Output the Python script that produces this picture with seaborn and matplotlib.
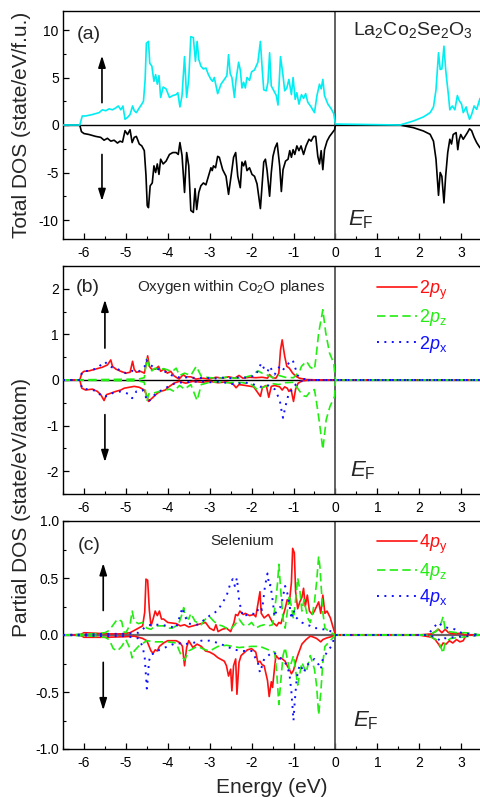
import matplotlib
matplotlib.use('Agg')
import matplotlib.pyplot as plt
import seaborn as sns
from matplotlib.lines import Line2D
from matplotlib.ticker import MultipleLocator, FormatStrFormatter

# ---------------- Panel (a): total DOS ----------------
E_a_up = [-6.5, -6.10, -6.04, -5.96, -5.80, -5.64, -5.56, -5.48, -5.40, -5.32, -5.24, -5.18, -5.12, -5.07,
          -5.02, -4.96, -4.90, -4.84, -4.80, -4.75, -4.68, -4.62, -4.58, -4.54, -4.51, -4.46, -4.43, -4.38,
          -4.33, -4.29, -4.25, -4.21, -4.17, -4.11, -4.04, -3.96, -3.88, -3.80, -3.76, -3.71, -3.66, -3.60,
          -3.55, -3.50, -3.45, -3.39, -3.34, -3.30, -3.26, -3.21, -3.15, -3.09, -3.03, -2.97, -2.93, -2.89,
          -2.81, -2.73, -2.65, -2.59, -2.55, -2.51, -2.47, -2.41, -2.37, -2.31, -2.27, -2.23, -2.19, -2.15,
          -2.11, -2.05, -2.00, -1.93, -1.85, -1.79, -1.75, -1.71, -1.65, -1.61, -1.57, -1.53, -1.48, -1.41,
          -1.37, -1.31, -1.25, -1.21, -1.16, -1.11, -1.05, -1.01, -0.96, -0.92, -0.87, -0.81, -0.76, -0.71,
          -0.66, -0.58, -0.50, -0.44, -0.38, -0.34, -0.30, -0.26, -0.18, -0.10, -0.04, 0.0, 1.54, 1.86,
          2.10, 2.26, 2.34, 2.40, 2.46, 2.50, 2.54, 2.59, 2.63, 2.70, 2.73, 2.79, 2.85, 2.91, 2.95, 3.01,
          3.05, 3.12, 3.15, 3.20, 3.25, 3.31, 3.37, 3.45]
dos_a_up = [0, 0, 0.95, 0.95, 1.1, 1.3, 1.6, 1.5, 1.7, 1.6, 1.8, 2.0, 1.6, 2.0,
            0.6, 0.8, 1.1, 2.0, 1.5, 1.3, 1.8, 2.2, 2.5, 4.8, 8.6, 8.8, 6.5, 6.2,
            4.6, 5.3, 4.3, 5.2, 2.9, 4.0, 3.8, 2.9, 3.1, 3.2, 3.4, 1.9, 3.1, 7.2,
            2.9, 4.8, 9.3, 9.2, 6.7, 8.8, 6.9, 6.2, 5.9, 6.0, 5.3, 4.8, 4.6, 5.0,
            3.3, 4.3, 4.8, 5.2, 7.4, 5.4, 5.0, 2.9, 4.8, 6.6, 5.8, 3.9, 4.5, 3.9,
            5.0, 4.7, 5.6, 5.8, 6.6, 8.8, 6.1, 3.7, 3.6, 4.5, 7.6, 4.1, 3.7, 3.1,
            2.1, 7.2, 5.2, 3.6, 3.9, 4.8, 3.2, 5.0, 2.7, 3.4, 2.2, 3.2, 2.8, 3.3,
            2.4, 1.9, 1.3, 3.1, 4.3, 3.8, 4.8, 3.1, 2.2, 1.7, 1.2, 0.1, 0.0, 0.42,
            0.85, 1.3, 1.9, 3.7, 7.6, 5.85, 5.9, 8.3, 5.85, 3.0, 1.6, 2.0, 1.6, 3.1, 2.6, 2.2,
            1.3, 1.9, 1.3, 0.6, 1.1, 2.0, 1.65, 2.8]

E_a_dn = [-6.5, -6.10, -6.06, -6.00, -5.88, -5.72, -5.60, -5.52, -5.44, -5.36, -5.28, -5.20, -5.14, -5.08,
          -5.02, -4.96, -4.90, -4.85, -4.80, -4.75, -4.68, -4.62, -4.56, -4.52, -4.49, -4.46, -4.42, -4.37,
          -4.33, -4.29, -4.25, -4.21, -4.17, -4.11, -4.04, -3.96, -3.88, -3.80, -3.75, -3.71, -3.66, -3.60,
          -3.55, -3.50, -3.45, -3.39, -3.35, -3.31, -3.26, -3.21, -3.15, -3.09, -3.03, -2.97, -2.94, -2.91,
          -2.86, -2.81, -2.77, -2.69, -2.61, -2.55, -2.49, -2.43, -2.38, -2.33, -2.27, -2.23, -2.19, -2.15,
          -2.11, -2.05, -1.99, -1.93, -1.87, -1.83, -1.79, -1.75, -1.71, -1.67, -1.63, -1.57, -1.53, -1.49,
          -1.44, -1.39, -1.33, -1.29, -1.25, -1.19, -1.13, -1.09, -1.05, -1.01, -0.97, -0.92, -0.87, -0.82,
          -0.76, -0.70, -0.63, -0.58, -0.52, -0.47, -0.42, -0.38, -0.34, -0.30, -0.26, -0.20, -0.14, -0.07,
          -0.02, 0.0, 1.54, 1.86, 2.10, 2.26, 2.34, 2.40, 2.46, 2.50, 2.54, 2.59, 2.63, 2.68, 2.73, 2.77,
          2.81, 2.88, 2.92, 2.95, 2.99, 3.05, 3.10, 3.15, 3.20, 3.25, 3.31, 3.37, 3.45]
dos_a_dn = [0, 0, -0.7, -0.9, -1.0, -1.2, -1.3, -1.6, -1.4, -1.7, -1.6, -1.9, -1.7, -1.8,
            -0.6, -1.0, -0.5, -1.85, -1.3, -1.2, -2.0, -2.2, -2.7, -5.3, -8.5, -8.7, -6.4, -6.1,
            -4.3, -5.0, -4.1, -5.2, -3.6, -4.1, -3.8, -3.1, -2.9, -2.9, -3.1, -1.85, -3.2, -7.1,
            -2.9, -4.3, -9.0, -9.2, -6.7, -8.9, -7.1, -6.4, -6.1, -6.3, -5.4, -4.5, -4.8, -4.3,
            -4.5, -3.3, -3.4, -4.7, -5.4, -7.3, -5.4, -3.4, -2.9, -5.4, -6.6, -3.9, -4.3, -3.8,
            -4.8, -4.5, -5.2, -5.4, -6.2, -7.5, -8.8, -6.4, -3.9, -3.6, -4.8, -7.5, -5.0, -3.3,
            -2.4, -1.9, -4.3, -7.0, -4.7, -3.8, -3.6, -2.7, -3.4, -2.6, -3.1, -2.2, -2.7, -2.2,
            -3.1, -2.2, -1.5, -1.7, -1.2, -1.2, -3.3, -4.1, -2.7, -4.7, -2.6, -1.7, -1.2, -0.8,
            -0.5, 0.0, 0.0, -0.28, -0.63, -0.98, -1.7, -3.6, -7.4, -5.0, -5.4, -8.2, -5.4, -2.9, -1.5, -2.0,
            -1.0, -0.8, -2.6, -1.6, -1.0, -1.5, -1.15, -0.8, -0.4, -0.6, -1.3, -1.85, -2.4]

# ---------------- Panel (b): oxygen 2p ----------------
E_b_py_up = [-6.5, -6.10, -6.05, -6.0, -5.88, -5.72, -5.56, -5.44, -5.36, -5.32, -5.24, -5.12, -5.0, -4.90,
             -4.84, -4.80, -4.75, -4.65, -4.56, -4.51, -4.48, -4.44, -4.38, -4.29, -4.22, -4.17, -4.09, -4.01,
             -3.93, -3.85, -3.73, -3.63, -3.57, -3.45, -3.33, -3.17, -3.01, -2.85, -2.7, -2.55, -2.4, -2.3,
             -2.21, -2.05, -1.9, -1.75, -1.62, -1.57, -1.5, -1.42, -1.35, -1.31, -1.27, -1.21, -1.16, -1.10,
             -1.02, -0.94, -0.86, -0.69, -0.4, 3.45]
dos_b_py_up = [0, 0, 0.15, 0.19, 0.20, 0.24, 0.28, 0.33, 0.44, 0.30, 0.24, 0.19, 0.15, 0.17,
               0.41, 0.23, 0.17, 0.19, 0.15, 0.37, 0.53, 0.30, 0.23, 0.24, 0.30, 0.19, 0.24, 0.15,
               0.19, 0.09, 0.02, 0.12, 0.07, 0.07, 0.02, 0.04, 0.02, 0.06, 0.04, 0.07, 0.04, 0.10,
               0.04, 0.06, 0.05, 0.06, 0.04, 0.12, 0.05, 0.04, 0.15, 0.66, 0.88, 0.52, 0.30, 0.26,
               0.15, 0.08, 0.04, 0.01, 0.0, 0.0]
E_b_py_dn = [-6.5, -6.10, -6.05, -5.96, -5.80, -5.68, -5.60, -5.52, -5.46, -5.36, -5.24, -5.12, -5.04, -4.92,
             -4.80, -4.68, -4.56, -4.51, -4.46, -4.40, -4.33, -4.25, -4.17, -4.06, -3.96, -3.85, -3.73, -3.57,
             -3.41, -3.17, -3.0, -2.8, -2.6, -2.45, -2.37, -2.3, -2.15, -1.95, -1.79, -1.74, -1.65, -1.59,
             -1.53, -1.45, -1.33, -1.27, -1.21, -1.15, -1.11, -1.06, -1.0, -0.95, -0.89, -0.8, -0.6, 3.45]
dos_b_py_dn = [0, 0, -0.18, -0.22, -0.20, -0.25, -0.32, -0.45, -0.32, -0.29, -0.25, -0.22, -0.18, -0.16,
               -0.14, -0.16, -0.22, -0.32, -0.47, -0.42, -0.36, -0.29, -0.25, -0.22, -0.14, -0.07, -0.03, -0.07,
               -0.03, -0.05, -0.03, -0.06, -0.04, -0.08, -0.17, -0.10, -0.12, -0.15, -0.36, -0.16, -0.12, -0.38,
               -0.14, -0.12, -0.15, -0.22, -0.15, -0.18, -0.25, -0.20, -0.47, -0.20, -0.07, -0.02, 0.0, 0.0]

E_b_pz_up = [-6.5, -4.7, -4.56, -4.5, -4.45, -4.38, -4.3, -4.2, -4.1, -4.0, -3.9, -3.8, -3.72, -3.6,
             -3.45, -3.32, -3.2, -3.0, -2.8, -2.6, -2.4, -2.2, -2.0, -1.85, -1.75, -1.6, -1.5, -1.35,
             -1.2, -1.0, -0.85, -0.81, -0.69, -0.6, -0.5, -0.46, -0.40, -0.30, -0.23, -0.14, -0.04, 0.0, 3.45]
dos_b_pz_up = [0, 0.02, 0.05, 0.48, 0.30, 0.20, 0.26, 0.22, 0.25, 0.22, 0.18, 0.26, 0.10, 0.15,
               0.10, 0.30, 0.08, 0.05, 0.04, 0.06, 0.04, 0.05, 0.10, 0.20, 0.15, 0.10, 0.05, 0.10,
               0.06, 0.05, 0.20, 0.30, 0.41, 0.28, 0.23, 0.52, 1.03, 1.54, 1.03, 0.59, 0.37, 0.0, 0.0]
E_b_pz_dn = [-6.5, -4.7, -4.56, -4.5, -4.45, -4.35, -4.2, -4.05, -3.95, -3.85, -3.72, -3.6, -3.45, -3.3,
             -3.2, -3.0, -2.8, -2.6, -2.4, -2.2, -2.0, -1.85, -1.7, -1.5, -1.35, -1.2, -1.0, -0.85,
             -0.75, -0.69, -0.6, -0.5, -0.46, -0.38, -0.30, -0.22, -0.13, -0.02, 0.0, 3.45]
dos_b_pz_dn = [0, -0.02, -0.05, -0.47, -0.30, -0.29, -0.25, -0.22, -0.20, -0.25, -0.12, -0.20, -0.10, -0.45,
               -0.10, -0.05, -0.04, -0.06, -0.05, -0.06, -0.10, -0.22, -0.15, -0.08, -0.10, -0.06, -0.05, -0.25,
               -0.35, -0.36, -0.25, -0.21, -0.43, -0.94, -1.52, -0.87, -0.58, -0.36, 0.0, 0.0]

E_b_px_up = [-6.5, -6.10, -6.04, -5.9, -5.7, -5.56, -5.5, -5.4, -5.2, -5.0, -4.85, -4.7, -4.55, -4.51,
             -4.45, -4.3, -4.1, -3.9, -3.7, -3.5, -3.3, -3.1, -2.9, -2.7, -2.5, -2.3, -2.1, -1.9,
             -1.77, -1.69, -1.62, -1.57, -1.45, -1.33, -1.25, -1.19, -1.11, -1.02, -0.97, -0.9, -0.8, -0.6, 3.45]
dos_b_px_up = [0, 0, 0.19, 0.20, 0.25, 0.36, 0.40, 0.30, 0.24, 0.15, 0.20, 0.18, 0.30, 0.44,
               0.35, 0.26, 0.20, 0.10, 0.05, 0.06, 0.04, 0.05, 0.03, 0.05, 0.04, 0.06, 0.05, 0.10,
               0.37, 0.23, 0.18, 0.30, 0.12, 0.30, 0.22, 0.30, 0.37, 0.44, 0.30, 0.10, 0.03, 0.0, 0.0]
E_b_px_dn = [-6.5, -6.10, -6.04, -5.9, -5.7, -5.56, -5.44, -5.3, -5.12, -4.95, -4.85, -4.75, -4.6, -4.51,
             -4.46, -4.35, -4.2, -4.0, -3.8, -3.6, -3.4, -3.2, -3.0, -2.8, -2.6, -2.4, -2.2, -2.0,
             -1.8, -1.6, -1.45, -1.33, -1.29, -1.25, -1.19, -1.11, -1.02, -0.95, -0.85, -0.6, 3.45]
dos_b_px_dn = [0, 0, -0.20, -0.20, -0.24, -0.37, -0.35, -0.28, -0.25, -0.30, -0.40, -0.25, -0.22, -0.40,
               -0.48, -0.35, -0.25, -0.15, -0.06, -0.05, -0.04, -0.03, -0.05, -0.04, -0.06, -0.10, -0.05, -0.08,
               -0.15, -0.12, -0.20, -0.43, -0.65, -0.83, -0.57, -0.28, -0.21, -0.10, -0.03, 0.0, 0.0]

# ---------------- Panel (c): selenium 4p ----------------
E_c_py_up = [-6.5, -6.1, -6.0, -5.7, -5.4, -5.1, -4.9, -4.8, -4.7, -4.6, -4.55, -4.52, -4.48, -4.44, -4.4,
             -4.35, -4.3, -4.25, -4.2, -4.15, -4.1, -4.0, -3.8, -3.7, -3.6, -3.5, -3.3, -3.1, -3.0, -2.9,
             -2.85, -2.8, -2.7, -2.6, -2.5, -2.42, -2.38, -2.33, -2.28, -2.2, -2.15, -2.05, -1.95, -1.9,
             -1.8, -1.77, -1.7, -1.6, -1.5, -1.4, -1.35, -1.3, -1.2, -1.15, -1.1, -1.05, -1.02, -0.98,
             -0.95, -0.9, -0.85, -0.8, -0.76, -0.72, -0.67, -0.62, -0.55, -0.5, -0.45, -0.4, -0.35, -0.3,
             -0.25, -0.2, -0.12, -0.05, 0.0, 2.0, 2.3, 2.38, 2.46, 2.54, 2.62, 2.70, 2.8, 3.0, 3.1, 3.45]
dos_c_py_up = [0, 0, 0.02, 0.015, 0.01, 0.01, 0.02, 0.04, 0.06, 0.08, 0.20, 0.49, 0.48, 0.22, 0.08,
               0.14, 0.21, 0.17, 0.21, 0.14, 0.14, 0.11, 0.10, 0.08, 0.09, 0.07, 0.09, 0.11, 0.06, 0.04,
               0.09, 0.03, 0.05, 0.06, 0.03, 0.11, 0.18, 0.17, 0.21, 0.18, 0.19, 0.17, 0.18, 0.16,
               0.38, 0.19, 0.15, 0.18, 0.11, 0.08, 0.11, 0.10, 0.23, 0.31, 0.28, 0.46, 0.76, 0.72,
               0.38, 0.23, 0.29, 0.33, 0.41, 0.25, 0.35, 0.21, 0.18, 0.21, 0.25, 0.29, 0.19, 0.35,
               0.19, 0.21, 0.15, 0.06, 0.0, 0.0, 0.01, 0.03, 0.05, 0.02, 0.05, 0.02, 0.01, 0.015, 0.0, 0.0]
E_c_py_dn = [-6.5, -6.1, -6.0, -5.5, -5.0, -4.8, -4.6, -4.5, -4.4, -4.35, -4.3, -4.25, -4.2, -4.1, -4.0,
             -3.8, -3.7, -3.65, -3.6, -3.55, -3.5, -3.4, -3.3, -3.2, -3.1, -3.0, -2.9, -2.8, -2.65, -2.6,
             -2.55, -2.5, -2.47, -2.43, -2.38, -2.35, -2.3, -2.25, -2.1, -2.0, -1.9, -1.85, -1.8, -1.75,
             -1.7, -1.62, -1.58, -1.53, -1.5, -1.45, -1.42, -1.35, -1.3, -1.2, -1.15, -1.1, -1.05, -1.0,
             -0.95, -0.9, -0.8, -0.7, -0.6, -0.55, -0.45, -0.35, -0.3, -0.2, -0.1, 0.0, 2.0, 2.3, 2.38,
             2.46, 2.51, 2.57, 2.64, 2.72, 2.80, 2.89, 2.97, 3.05, 3.12, 3.45]
dos_c_py_dn = [0, 0, -0.02, -0.02, -0.015, -0.01, -0.03, -0.05, -0.14, -0.16, -0.13, -0.14, -0.10, -0.07, -0.05,
               -0.05, -0.07, -0.10, -0.27, -0.11, -0.05, -0.11, -0.08, -0.10, -0.14, -0.15, -0.17, -0.20, -0.23, -0.27,
               -0.36, -0.30, -0.49, -0.27, -0.21, -0.52, -0.24, -0.18, -0.13, -0.12, -0.15, -0.24, -0.23, -0.26,
               -0.27, -0.40, -0.54, -0.41, -0.46, -0.28, -0.18, -0.21, -0.20, -0.23, -0.27, -0.30, -0.34, -0.31,
               -0.24, -0.18, -0.08, -0.04, -0.01, -0.015, -0.03, -0.06, -0.04, -0.025, -0.015, 0.0, 0.0, -0.02, -0.04,
               -0.08, -0.11, -0.07, -0.08, -0.05, -0.07, -0.04, -0.06, -0.05, 0.0, 0.0]

E_c_pz_up = [-6.5, -5.8, -5.5, -5.4, -5.3, -5.2, -5.1, -5.05, -5.0, -4.9, -4.85, -4.8, -4.7, -4.6, -4.5,
             -4.4, -4.3, -4.1, -4.0, -3.9, -3.75, -3.68, -3.62, -3.58, -3.5, -3.45, -3.35, -3.2, -3.1, -3.0,
             -2.9, -2.8, -2.7, -2.6, -2.5, -2.4, -2.3, -2.2, -2.1, -2.0, -1.9, -1.8, -1.7, -1.6, -1.5,
             -1.42, -1.38, -1.35, -1.3, -1.25, -1.2, -1.15, -1.1, -1.05, -1.0, -0.95, -0.9, -0.85, -0.8,
             -0.75, -0.7, -0.65, -0.6, -0.55, -0.5, -0.45, -0.4, -0.37, -0.33, -0.3, -0.25, -0.15, 0.0,
             2.2, 2.4, 2.5, 2.57, 2.62, 2.7, 2.9, 3.1, 3.3, 3.45]
dos_c_pz_up = [0, 0.01, 0.02, 0.04, 0.09, 0.14, 0.12, 0.03, 0.02, 0.09, 0.21, 0.12, 0.10, 0.11, 0.06,
               0.05, 0.08, 0.08, 0.06, 0.06, 0.09, 0.16, 0.24, 0.16, 0.14, 0.19, 0.12, 0.09, 0.14, 0.16,
               0.12, 0.09, 0.08, 0.06, 0.05, 0.09, 0.14, 0.09, 0.08, 0.11, 0.06, 0.08, 0.09, 0.08, 0.09,
               0.31, 0.46, 0.62, 0.37, 0.14, 0.06, 0.20, 0.35, 0.25, 0.14, 0.31, 0.50, 0.40, 0.21,
               0.31, 0.22, 0.14, 0.11, 0.18, 0.29, 0.46, 0.69, 0.60, 0.37, 0.20, 0.06, 0.03, 0.0,
               0.0, 0.03, 0.08, 0.16, 0.05, 0.03, 0.02, 0.02, 0.01, 0.0]
E_c_pz_dn = [-6.5, -5.8, -5.5, -5.4, -5.3, -5.2, -5.1, -5.0, -4.9, -4.85, -4.8, -4.7, -4.5, -4.3, -4.0,
             -3.8, -3.68, -3.6, -3.5, -3.3, -3.1, -3.0, -2.8, -2.6, -2.3, -2.0, -1.8, -1.6, -1.45, -1.4,
             -1.35, -1.3, -1.25, -1.2, -1.1, -1.0, -0.9, -0.85, -0.8, -0.7, -0.6, -0.5, -0.45, -0.4,
             -0.35, -0.3, -0.25, -0.1, 0.0, 2.2, 2.4, 2.5, 2.57, 2.62, 2.75, 3.0, 3.45]
dos_c_pz_dn = [0, -0.01, -0.02, -0.04, -0.12, -0.14, -0.10, -0.04, -0.12, -0.20, -0.14, -0.10, -0.05, -0.06, -0.06,
               -0.07, -0.18, -0.22, -0.14, -0.10, -0.13, -0.14, -0.10, -0.09, -0.11, -0.10, -0.10, -0.13, -0.15, -0.33,
               -0.61, -0.39, -0.18, -0.11, -0.30, -0.18, -0.44, -0.34, -0.24, -0.33, -0.18, -0.30, -0.44, -0.70,
               -0.51, -0.24, -0.10, -0.04, 0.0, 0.0, -0.04, -0.09, -0.16, -0.06, -0.03, -0.02, 0.0]

E_c_px_up = [-6.5, -5.5, -5.0, -4.7, -4.5, -4.4, -4.2, -4.0, -3.8, -3.65, -3.6, -3.5, -3.3, -3.1, -3.0,
             -2.9, -2.8, -2.7, -2.6, -2.5, -2.45, -2.4, -2.35, -2.3, -2.25, -2.2, -2.1, -2.0, -1.9, -1.85,
             -1.8, -1.75, -1.68, -1.62, -1.58, -1.55, -1.5, -1.45, -1.4, -1.3, -1.25, -1.2, -1.15, -1.1,
             -1.05, -1.0, -0.95, -0.9, -0.8, -0.7, -0.6, -0.5, -0.4, -0.3, -0.2, -0.1, 0.0, 2.2, 2.38,
             2.46, 2.54, 2.7, 2.85, 3.0, 3.2, 3.45]
dos_c_px_up = [0, 0.01, 0.01, 0.02, 0.08, 0.09, 0.09, 0.08, 0.06, 0.24, 0.17, 0.10, 0.09, 0.14, 0.17,
               0.19, 0.22, 0.28, 0.34, 0.46, 0.49, 0.43, 0.50, 0.31, 0.22, 0.16, 0.18, 0.19, 0.18, 0.22,
               0.25, 0.22, 0.43, 0.54, 0.43, 0.44, 0.31, 0.16, 0.22, 0.25, 0.34, 0.43, 0.37, 0.28,
               0.14, 0.22, 0.16, 0.14, 0.11, 0.09, 0.08, 0.06, 0.06, 0.05, 0.05, 0.03, 0.0, 0.0, 0.08,
               0.11, 0.08, 0.06, 0.05, 0.02, 0.01, 0.0]
E_c_px_dn = [-6.5, -5.5, -5.0, -4.7, -4.6, -4.55, -4.52, -4.5, -4.47, -4.45, -4.4, -4.3, -4.2, -4.0, -3.8,
             -3.6, -3.4, -3.2, -3.0, -2.8, -2.6, -2.4, -2.2, -2.0, -1.85, -1.8, -1.75, -1.7, -1.6, -1.5,
             -1.4, -1.3, -1.2, -1.1, -1.05, -1.0, -0.97, -0.93, -0.9, -0.85, -0.8, -0.75, -0.7, -0.6,
             -0.5, -0.4, -0.35, -0.3, -0.2, -0.1, 0.0, 2.2, 2.4, 2.5, 2.6, 2.8, 3.45]
dos_c_px_dn = [0, -0.01, -0.01, -0.03, -0.10, -0.20, -0.36, -0.47, -0.36, -0.23, -0.17, -0.16, -0.13, -0.10, -0.07,
               -0.08, -0.07, -0.05, -0.05, -0.07, -0.10, -0.13, -0.14, -0.14, -0.24, -0.33, -0.27, -0.21, -0.18, -0.15,
               -0.17, -0.21, -0.24, -0.33, -0.50, -0.75, -0.58, -0.41, -0.33, -0.26, -0.29, -0.33, -0.27, -0.24,
               -0.21, -0.26, -0.30, -0.21, -0.15, -0.10, 0.0, 0.0, -0.02, -0.05, -0.03, -0.02, 0.0]

legend_b = [r'2$\mathit{p}_\mathrm{y}$', r'2$\mathit{p}_\mathrm{z}$', r'2$\mathit{p}_\mathrm{x}$']
legend_c = [r'4$\mathit{p}_\mathrm{y}$', r'4$\mathit{p}_\mathrm{z}$', r'4$\mathit{p}_\mathrm{x}$']
x_ticks = [-6, -5, -4, -3, -2, -1, 0, 1, 2, 3]

# ---------------- styling ----------------
sns.set_style('ticks')
plt.rcParams['font.family'] = ['Liberation Sans', 'DejaVu Sans']
plt.rcParams['mathtext.fontset'] = 'custom'
plt.rcParams['mathtext.rm'] = 'Liberation Sans'
plt.rcParams['mathtext.it'] = 'Liberation Sans:italic'
plt.rcParams['mathtext.bf'] = 'Liberation Sans:bold'
plt.rcParams['axes.unicode_minus'] = False

CYAN = '#00EEF2'
RED = '#FF1010'
GREEN = '#22EE11'
BLUE = '#1010FF'
DASH = (0, (5, 2.6))
DOT = (0, (1, 2.8))

fig = plt.figure(figsize=(4.8, 7.97), dpi=100)
W = 480.0
H = 797.0
left = 63 / W
width = (W - 63) / W


def make_ax(top_px, bot_px):
    return fig.add_axes([left, 1 - bot_px / H, width, (bot_px - top_px) / H])


ax_a = make_ax(11, 239)
ax_b = make_ax(266, 494)
ax_c = make_ax(521, 749)


def draw(ax, x, y, color, ls='-', lw=1.2, z=3):
    sns.lineplot(x=x, y=y, ax=ax, color=color, linestyle=ls, lw=lw,
                 estimator=None, sort=False, zorder=z)


def style_axis(ax, ylim, major, minor):
    ax.set_xlim(-6.5, 3.45)
    ax.set_ylim(*ylim)
    ax.set_xticks(x_ticks)
    ax.xaxis.set_minor_locator(MultipleLocator(0.5))
    ax.yaxis.set_major_locator(MultipleLocator(major))
    ax.yaxis.set_minor_locator(MultipleLocator(minor))
    ax.tick_params(which='both', direction='in', colors='black', labelsize=10,
                   top=False, right=False)
    ax.tick_params(which='major', length=4.5, width=0.9)
    ax.tick_params(which='minor', length=2.5, width=0.8)
    ax.tick_params(axis='x', pad=5)
    ax.tick_params(axis='y', pad=3)
    for s in ['left', 'bottom', 'top']:
        ax.spines[s].set_color('black')
        ax.spines[s].set_linewidth(1.0)
    ax.spines['right'].set_visible(False)
    ax.set_xlabel('')
    ax.set_ylabel('')
    ax.axvline(0, color='#555555', lw=1.3, zorder=1)


def arrows(ax, x, up, dn):
    kw = dict(arrowstyle='-|>,head_length=0.7,head_width=0.22', color='black', lw=1.2,
              shrinkA=0, shrinkB=0, mutation_scale=10)
    ax.annotate('', xy=(x, up[1]), xytext=(x, up[0]), arrowprops=kw)
    ax.annotate('', xy=(x, dn[1]), xytext=(x, dn[0]), arrowprops=kw)


# ---- (a)
ax_a.axhline(0, color='black', lw=1.0, zorder=1)
draw(ax_a, E_a_dn, dos_a_dn, 'black')
draw(ax_a, E_a_up, dos_a_up, CYAN)
style_axis(ax_a, (-12, 12), 5, 2.5)
arrows(ax_a, -5.57, (2.35, 7.3), (-3.1, -8.0))
ax_a.text(-6.17, 9.1, '(a)', fontsize=14, va='baseline', ha='left')
ax_a.text(0.41, 9.5, r'La$_2$Co$_2$Se$_2$O$_3$', fontsize=14, va='baseline', ha='left')
ax_a.text(0.30, -10.6, r'$E_\mathrm{F}$', fontsize=16, va='baseline', ha='left')

# ---- (b)
ax_b.axhline(0, color='black', lw=1.0, zorder=1)
draw(ax_b, E_b_py_up, dos_b_py_up, RED)
draw(ax_b, E_b_py_dn, dos_b_py_dn, RED)
draw(ax_b, E_b_pz_up, dos_b_pz_up, GREEN, DASH)
draw(ax_b, E_b_pz_dn, dos_b_pz_dn, GREEN, DASH)
draw(ax_b, E_b_px_up, dos_b_px_up, BLUE, DOT, 1.4)
draw(ax_b, E_b_px_dn, dos_b_px_dn, BLUE, DOT, 1.4)
style_axis(ax_b, (-2.5, 2.5), 1, 0.5)
arrows(ax_b, -5.5, (0.70, 1.76), (-0.76, -1.80))
ax_b.text(-6.2, 1.93, '(b)', fontsize=14, va='baseline', ha='left')
ax_b.text(-4.73, 1.96, r'Oxygen within Co$_2$O planes', fontsize=11, va='baseline', ha='left')
ax_b.text(0.34, -2.11, r'$E_\mathrm{F}$', fontsize=16, va='baseline', ha='left')

# ---- (c)
ax_c.axhline(0, color='#666666', lw=1.6, zorder=1)
draw(ax_c, E_c_py_up, dos_c_py_up, RED)
draw(ax_c, E_c_py_dn, dos_c_py_dn, RED)
draw(ax_c, E_c_pz_up, dos_c_pz_up, GREEN, DASH)
draw(ax_c, E_c_pz_dn, dos_c_pz_dn, GREEN, DASH)
draw(ax_c, E_c_px_up, dos_c_px_up, BLUE, DOT, 1.4)
draw(ax_c, E_c_px_dn, dos_c_px_dn, BLUE, DOT, 1.4)
style_axis(ax_c, (-1.0, 1.0), 0.5, 0.25)
ax_c.yaxis.set_major_formatter(FormatStrFormatter('%.1f'))
arrows(ax_c, -5.54, (0.215, 0.63), (-0.24, -0.66))
ax_c.text(-6.14, 0.75, '(c)', fontsize=14, va='baseline', ha='left')
ax_c.text(-2.99, 0.79, 'Selenium', fontsize=11, va='baseline', ha='left')
ax_c.text(0.41, -0.80, r'$E_\mathrm{F}$', fontsize=16, va='baseline', ha='left')

# ---- legends
for ax, labels, top in ((ax_b, legend_b, 0.945), (ax_c, legend_c, 0.95)):
    handles = [Line2D([], [], color=RED, lw=1.2),
               Line2D([], [], color=GREEN, lw=1.2, linestyle=DASH),
               Line2D([], [], color=BLUE, lw=1.4, linestyle=DOT)]
    ax.legend(handles, labels, loc='upper left', bbox_to_anchor=(0.753, top),
              frameon=False, fontsize=13, handlelength=2.2, handletextpad=0.15,
              labelspacing=0.3, borderpad=0, borderaxespad=0, labelcolor='linecolor')

# ---- axis titles
fig.text(0.044, 1 - 125 / H, 'Total DOS (state/eV/f.u.)', rotation=90, fontsize=15,
         ha='center', va='center')
fig.text(0.044, 1 - 507.5 / H, 'Partial DOS (state/eV/atom)', rotation=90, fontsize=15,
         ha='center', va='center')
fig.text(271.5 / W, 1 - 793 / H, 'Energy (eV)', fontsize=15, ha='center', va='baseline')

fig.savefig('out.png', dpi=100)
